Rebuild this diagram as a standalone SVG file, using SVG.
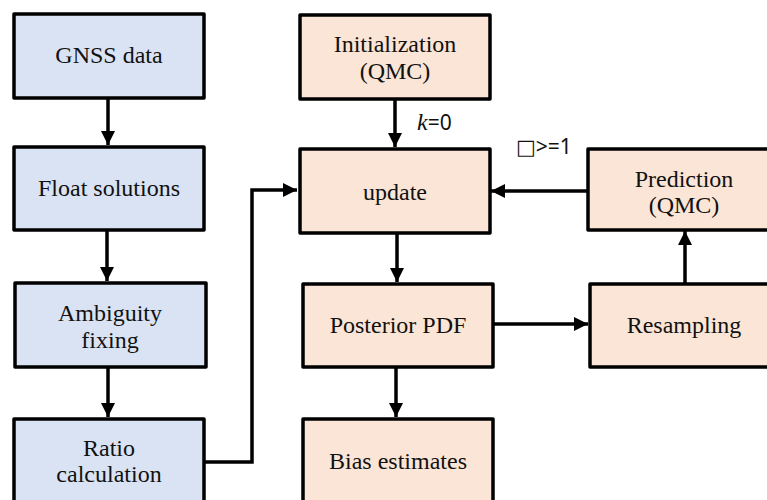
<svg xmlns="http://www.w3.org/2000/svg" width="767" height="500" viewBox="0 0 767 500">
<style>
.b rect{stroke:#000;stroke-width:3.5;stroke-linejoin:round}
.blue rect{fill:#DAE3F3}
.peach rect{fill:#FBE5D6}
.b text{font-family:"Liberation Serif","Times New Roman",serif;font-size:24px;fill:#111;text-anchor:middle}
.c{stroke:#000;stroke-width:3.5;fill:none}
.lbl{font-family:"Noto Sans","DejaVu Sans",sans-serif;font-size:21px;fill:#111}
</style>
<defs>
<marker id="ah" viewBox="0 0 10 10" refX="10" refY="5" markerWidth="4" markerHeight="4" markerUnits="strokeWidth" orient="auto">
<path d="M0,0 L10,5 L0,10 Z" fill="#000"/>
</marker>
</defs>
<rect width="767" height="500" fill="#fff"/>
<g id="connectors">
<line class="c" x1="108" y1="98" x2="108" y2="145" marker-end="url(#ah)"/>
<line class="c" x1="107" y1="230" x2="107" y2="281" marker-end="url(#ah)"/>
<line class="c" x1="108" y1="367" x2="108" y2="417" marker-end="url(#ah)"/>
<polyline class="c" points="204,462 252,462 252,190 297,190" marker-end="url(#ah)"/>
<line class="c" x1="395" y1="99" x2="395" y2="147" marker-end="url(#ah)"/>
<line class="c" x1="397" y1="233" x2="397" y2="282" marker-end="url(#ah)"/>
<line class="c" x1="396" y1="367" x2="396" y2="417" marker-end="url(#ah)"/>
<line class="c" x1="493" y1="324" x2="588" y2="324" marker-end="url(#ah)"/>
<line class="c" x1="685" y1="283" x2="685" y2="231" marker-end="url(#ah)"/>
<line class="c" x1="587" y1="191" x2="491" y2="191" marker-end="url(#ah)"/>
<text class="lbl" x="417" y="130"><tspan font-family="Liberation Serif,serif" font-style="italic" font-size="24">k</tspan>=0</text>
<text class="lbl" x="516" y="154">□&gt;=1</text>
</g>
<g id="gnss" class="b blue"><rect x="14" y="14" width="190" height="84"/><text x="109" y="63">GNSS data</text></g>
<g id="float" class="b blue"><rect x="14" y="147" width="190" height="83"/><text x="109" y="196">Float solutions</text></g>
<g id="ambiguity" class="b blue"><rect x="15" y="283" width="191" height="84"/><text x="110" y="321">Ambiguity</text><text x="110" y="348">fixing</text></g>
<g id="ratio" class="b blue"><rect x="14" y="419" width="190" height="86"/><text x="109" y="456">Ratio</text><text x="109" y="482">calculation</text></g>
<g id="init" class="b peach"><rect x="300" y="15" width="190" height="84"/><text x="395" y="52">Initialization</text><text x="395" y="79">(QMC)</text></g>
<g id="update" class="b peach"><rect x="300" y="149" width="190" height="84"/><text x="395" y="200">update</text></g>
<g id="posterior" class="b peach"><rect x="303" y="284" width="190" height="83"/><text x="398" y="333">Posterior PDF</text></g>
<g id="bias" class="b peach"><rect x="303" y="419" width="190" height="86"/><text x="398" y="469">Bias estimates</text></g>
<g id="prediction" class="b peach"><rect x="588" y="149" width="192" height="81"/><text x="684" y="187">Prediction</text><text x="684" y="213">(QMC)</text></g>
<g id="resampling" class="b peach"><rect x="590" y="284" width="192" height="83"/><text x="684" y="333">Resampling</text></g>
</svg>
